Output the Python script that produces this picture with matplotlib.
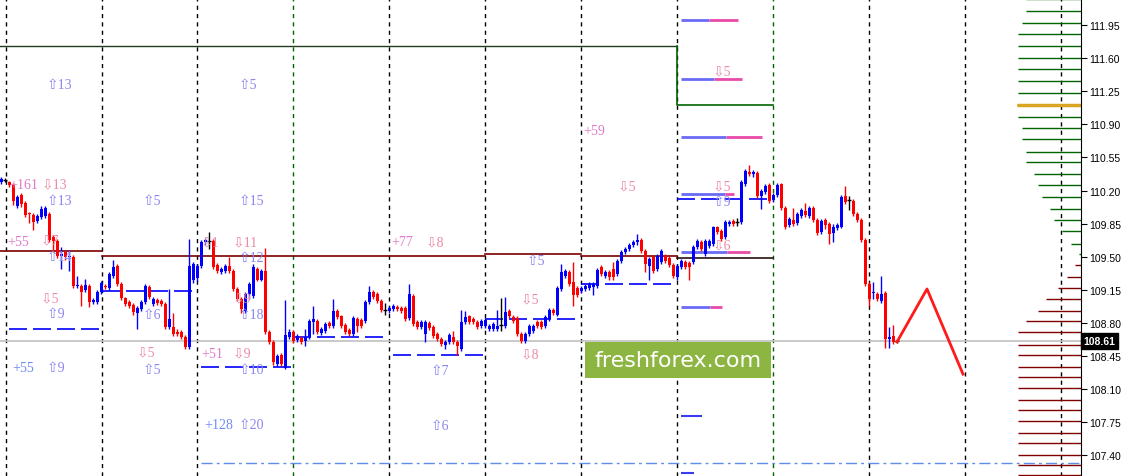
import matplotlib
matplotlib.use("Agg")
import matplotlib.pyplot as plt
from matplotlib.patches import Rectangle

# H1 candles (index 0 = first candle on the left)
opens = [110.29, 110.31, 110.29, 110.26, 110.04, 110.15, 110.07, 109.96, 109.94, 109.88,
         109.92, 109.93, 109.95, 109.71, 109.67, 109.51, 109.55, 109.50, 109.50, 109.19,
         109.19, 109.15, 109.19, 109.02, 109.02, 109.13, 109.19, 109.17, 109.30, 109.40,
         109.21, 109.06, 109.02, 108.99, 108.91, 108.95, 109.02, 109.18, 109.00, 109.04,
         109.03, 109.00, 108.76, 108.76, 108.71, 108.70, 108.65, 108.55, 109.26, 109.28,
         109.40, 109.66, 109.67, 109.67, 109.41, 109.34, 109.35, 109.40, 109.35, 109.16,
         109.05, 108.93, 109.11, 109.09, 109.37, 109.26, 109.35, 108.70, 108.60, 108.37,
         108.46, 108.32, 108.65, 108.70, 108.62, 108.64, 108.61, 108.65, 108.81, 108.82,
         108.69, 108.72, 108.80, 108.77, 108.93, 108.87, 108.78, 108.73, 108.68, 108.84,
         108.83, 108.82, 109.02, 109.13, 109.11, 109.03, 108.94, 108.93, 108.95, 108.97,
         108.96, 108.96, 108.85, 109.09, 108.81, 108.76, 108.68, 108.80, 108.76, 108.68,
         108.63, 108.57, 108.60, 108.65, 108.60, 108.53, 108.81, 108.87, 108.84, 108.81,
         108.77, 108.77, 108.74, 108.74, 108.74, 108.78, 108.77, 108.93, 108.86, 108.85,
         108.68, 108.61, 108.68, 108.72, 108.81, 108.81, 108.77, 108.84, 108.94, 108.89,
         109.16, 109.30, 109.34, 109.23, 109.17, 109.14, 109.16, 109.17, 109.18, 109.19,
         109.39, 109.30, 109.34, 109.37, 109.32, 109.46, 109.55, 109.58, 109.62, 109.66,
         109.68, 109.56, 109.40, 109.50, 109.37, 109.44, 109.51, 109.49, 109.41, 109.29,
         109.39, 109.44, 109.43, 109.44, 109.60, 109.66, 109.53, 109.61, 109.64, 109.81,
         109.77, 109.71, 109.85, 109.88, 109.87, 109.87, 110.27, 110.40, 110.37, 110.39,
         110.14, 110.18, 110.26, 110.10, 110.15, 110.27, 110.02, 109.84, 109.89, 109.86,
         109.93, 109.98, 109.93, 110.02, 109.89, 109.76, 109.89, 109.85, 109.75, 109.80,
         109.82, 110.14, 110.10, 110.09, 109.95, 109.89, 109.68, 109.21, 109.12, 109.11,
         109.03, 109.12, 108.63, 108.66, 108.61]
closes = [110.32, 110.31, 110.26, 110.09, 110.13, 110.06, 109.94, 109.95, 109.87, 109.93,
          110.01, 110.02, 109.68, 109.67, 109.51, 109.53, 109.50, 109.51, 109.19, 109.20,
          109.13, 109.20, 109.02, 109.04, 109.13, 109.22, 109.18, 109.32, 109.39, 109.21,
          109.06, 109.00, 108.98, 108.92, 108.96, 109.02, 109.19, 109.08, 109.05, 109.01,
          109.00, 108.76, 108.84, 108.68, 108.68, 108.65, 108.55, 109.40, 109.42, 109.40,
          109.66, 109.68, 109.67, 109.39, 109.35, 109.37, 109.40, 109.35, 109.16, 109.05,
          108.95, 109.11, 109.21, 109.39, 109.26, 109.35, 108.70, 108.60, 108.39, 108.45,
          108.37, 108.67, 108.71, 108.61, 108.66, 108.60, 108.65, 108.82, 108.84, 108.70,
          108.74, 108.79, 108.77, 108.93, 108.86, 108.77, 108.70, 108.68, 108.85, 108.77,
          108.77, 109.02, 109.13, 109.08, 109.03, 108.94, 108.94, 108.96, 108.98, 108.95,
          108.93, 108.84, 109.11, 108.79, 108.76, 108.81, 108.81, 108.75, 108.66, 108.63,
          108.58, 108.60, 108.67, 108.60, 108.56, 108.81, 108.86, 108.81, 108.81, 108.76,
          108.82, 108.83, 108.77, 108.79, 108.77, 108.78, 108.92, 108.87, 108.82, 108.68,
          108.61, 108.68, 108.77, 108.77, 108.77, 108.76, 108.86, 108.94, 108.91, 109.17,
          109.34, 109.35, 109.21, 109.10, 109.10, 109.17, 109.19, 109.21, 109.21, 109.36,
          109.32, 109.34, 109.29, 109.29, 109.46, 109.55, 109.58, 109.62, 109.66, 109.68,
          109.56, 109.42, 109.48, 109.35, 109.51, 109.56, 109.46, 109.41, 109.30, 109.40,
          109.46, 109.39, 109.39, 109.60, 109.67, 109.58, 109.67, 109.67, 109.81, 109.76,
          109.69, 109.87, 109.87, 109.85, 109.87, 110.29, 110.41, 110.37, 110.40, 110.14,
          110.20, 110.25, 110.09, 110.15, 110.26, 110.02, 109.81, 109.90, 109.85, 109.95,
          109.99, 109.94, 110.02, 109.89, 109.75, 109.88, 109.84, 109.74, 109.82, 109.84,
          110.13, 110.08, 110.10, 109.95, 109.89, 109.68, 109.21, 109.05, 109.13, 109.05,
          109.11, 108.63, 108.65, 108.60, 108.61]
highs = [110.34, 110.33, 110.30, 110.28, 110.15, 110.17, 110.09, 109.97, 109.96, 109.95,
         110.04, 110.04, 109.97, 109.73, 109.69, 109.60, 109.57, 109.57, 109.52, 109.30,
         109.21, 109.27, 109.21, 109.06, 109.15, 109.24, 109.21, 109.34, 109.47, 109.42,
         109.23, 109.08, 109.04, 109.01, 108.98, 109.04, 109.21, 109.20, 109.08, 109.06,
         109.05, 109.02, 109.16, 108.91, 108.74, 108.73, 108.67, 109.69, 109.45, 109.42,
         109.68, 109.70, 109.76, 109.69, 109.43, 109.39, 109.42, 109.50, 109.37, 109.18,
         109.08, 109.13, 109.23, 109.42, 109.39, 109.37, 109.59, 108.73, 108.62, 108.47,
         108.48, 109.04, 108.74, 108.73, 108.68, 108.66, 108.74, 108.84, 108.98, 108.84,
         108.76, 108.81, 108.82, 109.05, 108.95, 108.89, 108.80, 108.75, 108.87, 108.86,
         108.85, 109.04, 109.19, 109.15, 109.13, 109.05, 109.01, 108.98, 109.00, 108.99,
         108.98, 108.98, 109.21, 109.11, 108.83, 108.83, 108.83, 108.82, 108.78, 108.70,
         108.65, 108.62, 108.69, 108.72, 108.62, 108.94, 108.93, 108.89, 108.86, 108.83,
         108.84, 108.85, 108.79, 108.81, 108.94, 109.06, 109.08, 108.95, 108.88, 108.87,
         108.70, 108.70, 108.79, 108.79, 108.83, 108.83, 108.88, 108.96, 108.96, 109.19,
         109.42, 109.37, 109.36, 109.44, 109.19, 109.19, 109.21, 109.23, 109.23, 109.38,
         109.41, 109.36, 109.36, 109.44, 109.48, 109.57, 109.60, 109.65, 109.68, 109.74,
         109.70, 109.58, 109.50, 109.52, 109.53, 109.58, 109.53, 109.51, 109.43, 109.42,
         109.48, 109.47, 109.46, 109.62, 109.69, 109.68, 109.69, 109.69, 109.83, 109.83,
         109.79, 109.89, 109.89, 109.90, 109.91, 110.31, 110.43, 110.47, 110.42, 110.41,
         110.22, 110.27, 110.28, 110.17, 110.28, 110.28, 110.04, 109.92, 110.02, 109.97,
         110.02, 110.07, 110.04, 110.04, 109.91, 109.90, 109.91, 109.87, 109.85, 109.86,
         110.15, 110.25, 110.14, 110.11, 109.97, 109.91, 109.70, 109.23, 109.23, 109.13,
         109.30, 109.14, 108.76, 108.78, 108.63]
lows = [110.27, 110.29, 110.24, 110.05, 110.02, 110.03, 109.92, 109.86, 109.78, 109.86,
        109.90, 109.91, 109.66, 109.55, 109.49, 109.37, 109.47, 109.35, 109.17, 109.17,
        108.98, 109.13, 108.97, 109.00, 109.00, 109.11, 109.16, 109.15, 109.28, 109.19,
        109.04, 108.98, 108.96, 108.89, 108.74, 108.93, 109.00, 109.05, 108.98, 108.99,
        108.98, 108.74, 108.74, 108.66, 108.66, 108.63, 108.53, 108.53, 109.22, 109.24,
        109.38, 109.63, 109.58, 109.37, 109.33, 109.32, 109.33, 109.33, 109.14, 109.03,
        108.91, 108.91, 109.05, 109.06, 109.24, 109.24, 108.68, 108.58, 108.36, 108.35,
        108.35, 108.31, 108.63, 108.59, 108.60, 108.58, 108.56, 108.63, 108.68, 108.68,
        108.67, 108.69, 108.75, 108.75, 108.84, 108.75, 108.68, 108.66, 108.66, 108.70,
        108.75, 108.80, 109.00, 109.05, 109.01, 108.92, 108.88, 108.91, 108.93, 108.93,
        108.91, 108.82, 108.83, 108.77, 108.74, 108.74, 108.60, 108.73, 108.64, 108.61,
        108.56, 108.53, 108.58, 108.58, 108.46, 108.50, 108.79, 108.79, 108.79, 108.74,
        108.75, 108.75, 108.72, 108.72, 108.72, 108.72, 108.75, 108.85, 108.80, 108.66,
        108.59, 108.59, 108.66, 108.69, 108.75, 108.74, 108.75, 108.82, 108.89, 108.87,
        109.14, 109.28, 109.19, 108.98, 109.08, 109.12, 109.14, 109.15, 109.10, 109.17,
        109.30, 109.28, 109.26, 109.26, 109.30, 109.43, 109.53, 109.56, 109.60, 109.63,
        109.54, 109.34, 109.26, 109.33, 109.35, 109.42, 109.43, 109.39, 109.28, 109.26,
        109.37, 109.37, 109.26, 109.42, 109.58, 109.56, 109.51, 109.59, 109.61, 109.74,
        109.67, 109.69, 109.83, 109.83, 109.83, 109.85, 110.25, 110.35, 110.34, 110.12,
        110.01, 110.16, 110.07, 110.08, 110.13, 109.99, 109.79, 109.81, 109.83, 109.84,
        109.91, 109.92, 109.91, 109.87, 109.73, 109.74, 109.79, 109.64, 109.66, 109.78,
        109.80, 110.06, 109.99, 109.93, 109.87, 109.66, 109.19, 108.98, 109.05, 109.03,
        109.01, 108.54, 108.54, 108.58, 108.59]

last_price = 108.61
price_ticks = [111.95, 111.60, 111.25, 110.90, 110.55, 110.20, 109.85,
               109.50, 109.15, 108.80, 108.45, 108.10, 107.75, 107.40]

# day separators (candle index), weekly ones drawn green
day_lines = [1.25, 25.25, 49, 73, 97, 121, 145, 169, 193, 217, 241, 265]
week_lines = [73, 193]

# daily levels: (start, end, price)
blue_levels = [(2, 24.5, 108.74), (25.25, 49, 109.14), (50, 73, 108.34), (73, 97, 108.65),
               (98, 121, 108.46), (121, 145, 108.84), (145, 169, 109.21), (169, 193, 110.11)]
maroon_levels = [(-0.25, 25.25, 109.56), (25.25, 121, 109.51), (121, 145, 109.53),
                 (145, 169, 109.51)]
dark_levels = [(169, 193, 109.49)]
top_step = [(-0.25, 111.73), (169, 111.73), (169, 111.10), (193, 111.10)]

# projection levels: (price, blue end, pink end) starting at candle 170
proj_levels = [(112.00, 177, 184.25), (111.38, 178.25, 185.25), (110.77, 181.25, 190.25),
               (110.16, 181, 183.25), (109.55, 181.5, 187.25), (108.97, 177.25, 180.25)]
proj_short = [(107.82, 175.25), (107.21, 173.25)]
dashdot_level = (50, 270, 107.32)

# forecast zigzag
zig_x = [224, 231.5, 240.5]
zig_y = [108.60, 109.16, 108.26]

# volume profile on the right edge
profile_prices = [112.22, 112.10, 111.97, 111.86, 111.73, 111.60, 111.48, 111.36, 111.23, 111.10,
                  110.98, 110.86, 110.74, 110.61, 110.50, 110.37, 110.26, 110.13, 110.01, 109.89,
                  109.77, 109.64, 109.53, 109.41, 109.29, 109.17, 109.05, 108.93, 108.82, 108.71,
                  108.57, 108.46, 108.34, 108.23, 108.11, 107.99, 107.88, 107.76, 107.64, 107.53,
                  107.41, 107.30, 107.19]
profile_len = [13.75, 13.75, 14.75, 15.75, 15.75, 15.75, 15.75, 15.75, 15.75, 16.0,
               15.75, 14.75, 14.75, 13.75, 13.75, 11.75, 10.75, 9.75, 7.75, 6.75,
               4.75, 2.5, 0.5, 1.5, 3.5, 5.75, 8.75, 10.75, 13.75, 15.75,
               15.75, 15.75, 15.75, 15.75, 15.75, 15.75, 15.75, 15.75, 15.75, 15.75,
               15.75, 15.75, 15.75]
poc_price = 111.10

# signal labels: text, candle index, price, kind
ann_text = ["⇧13", "+161", "⇩13", "⇧13", "+55", "⇩7", "⇧14", "⇩5", "⇧9", "+55", "⇧9",
            "⇧5", "⇧6", "⇩5", "⇧5",
            "⇧5", "⇧15", "⇩1", "⇩11", "⇧12", "⇩9", "⇧18", "+51", "⇩9", "⇧10", "+128", "⇧20",
            "+77", "⇩8", "⇧7", "⇧6",
            "⇧5", "⇩5", "⇩8", "+59", "⇩5",
            "⇩5", "⇩5", "⇧9", "⇩6"]
ann_x = [11.5, 2.0, 10.25, 11.5, 1.5, 10, 11.5, 10, 11.5, 2.75, 11.5,
         35.5, 35.5, 34, 35.5,
         59.5, 59.5, 50, 58, 59.5, 58, 59.5, 50, 58, 59.5, 50.75, 59.5,
         97.5, 106.25, 107.5, 107.5,
         131.5, 130, 130, 145.5, 154.25,
         178, 178, 178, 178]
ann_y = [111.32, 110.26, 110.27, 110.10, 109.66, 109.68, 109.50, 109.07, 108.90, 108.33, 108.33,
         110.10, 108.89, 108.49, 108.31,
         111.32, 110.10, 109.66, 109.66, 109.49, 109.07, 108.89, 108.48, 108.48, 108.31, 107.73, 107.73,
         109.66, 109.66, 108.30, 107.72,
         109.46, 109.05, 108.47, 110.84, 110.25,
         111.46, 110.25, 110.08, 109.62]
ann_kind = ["up", "plus", "down", "up", "plus", "down", "up", "down", "up", "plusb", "up",
            "up", "up", "down", "up",
            "up", "up", "down", "down", "up", "down", "up", "plus", "down", "up", "plusb", "up",
            "plus", "down", "up", "up",
            "up", "down", "down", "plus", "down",
            "down", "down", "up", "down"]
kind_color = {"up": "#8a86f0", "down": "#ec8aa6", "plus": "#e07acb", "plusb": "#6f8cf5"}

fig = plt.figure(figsize=(11.23, 4.77), dpi=100)
ax = fig.add_axes([0, 0, 1081 / 1123, 1])
ax.set_xlim(-0.25, 270)
ax.set_ylim(107.183, 112.225)

# separators
for d in day_lines:
    col = "#006400" if d in week_lines else "black"
    ax.axvline(d, color=col, lw=1, ls=(0, (3, 3)), zorder=1)

# levels
ax.axhline(last_price, color="#c0c0c0", lw=1.2, zorder=1)
ax.plot([p[0] for p in top_step[:2]], [p[1] for p in top_step[:2]], color="#223a22", lw=1, zorder=2)
ax.plot([p[0] for p in top_step[1:]], [p[1] for p in top_step[1:]], color="#006400", lw=1.2, zorder=2)
for s, e, p in maroon_levels:
    ax.plot([s, e], [p, p], color="#7a0000", lw=1.2, zorder=2)
for s, e, p in dark_levels:
    ax.plot([s, e], [p, p], color="#2a1010", lw=1.2, zorder=2)
for s, e, p in blue_levels:
    ax.plot([s, e], [p, p], color="#0000ff", lw=1.2, ls=(0, (10.8, 3.6)), zorder=2)
for p, be, pe in proj_levels:
    ax.plot([170, be], [p, p], color="#6a6af5", lw=2, solid_capstyle="butt", zorder=2)
    ax.plot([be, pe], [p, p], color="#e84aa8", lw=2, solid_capstyle="butt", zorder=2)
for p, be in proj_short:
    ax.plot([170, be], [p, p], color="#3b3bf0", lw=1.5, solid_capstyle="butt", zorder=2)
ax.plot([dashdot_level[0], dashdot_level[1]], [dashdot_level[2]] * 2, color="#5b8ee8",
        lw=1, ls=(0, (8, 3, 2, 3)), zorder=2)

# candles
for i in range(len(opens)):
    o, c, h, l = opens[i], closes[i], highs[i], lows[i]
    col = "#0000ff" if c > o else ("#ff0000" if c < o else "black")
    ax.vlines(i, min(l, o, c), max(h, o, c), color=col, lw=1, zorder=3)
    if c == o:
        ax.hlines(o, i - 0.45, i + 0.45, color=col, lw=1, zorder=3)
    else:
        ax.bar(i, abs(c - o), bottom=min(o, c), width=0.75, color=col, lw=0, zorder=3)

# volume profile
for p, ln in zip(profile_prices, profile_len):
    col = "#006400" if p >= 109.5 else "#800000"
    ax.plot([270 - ln, 270], [p, p], color=col, lw=1, solid_capstyle="butt", zorder=2)
ax.plot([270 - 16.0, 270], [poc_price, poc_price], color="#daa520", lw=2.5,
        solid_capstyle="butt", zorder=2)

# forecast
ax.plot(zig_x, zig_y, color="#ff1a1a", lw=2, zorder=4)

# labels
for t, x, y, k in zip(ann_text, ann_x, ann_y, ann_kind):
    ax.text(x, y, t, color=kind_color[k], fontsize=10, ha="left", va="center",
            family=["Liberation Serif", "DejaVu Sans"], zorder=5)

# watermark
ax.add_patch(Rectangle((585 / 1081, 98 / 477), 186 / 1081, 36 / 477, transform=ax.transAxes,
                       facecolor="#8db541", edgecolor="none", zorder=6))
ax.text(678 / 1081, 116 / 477, "freshforex.com", transform=ax.transAxes, color="white",
        fontsize=16, ha="center", va="center", zorder=7)

# axes style
for side in ["left", "top", "bottom"]:
    ax.spines[side].set_visible(False)
ax.spines["right"].set_color("black")
ax.set_xticks([])
ax.yaxis.tick_right()
ax.set_yticks(price_ticks)
ax.set_yticklabels([f"{v:.2f}" for v in price_ticks], family="Liberation Sans")
ax.tick_params(axis="y", direction="out", length=4, labelsize=7.5, pad=2, colors="black")

ax.text(1.002, last_price, f"{last_price:.2f}", transform=ax.get_yaxis_transform(),
        color="white", fontsize=7.5, ha="left", va="center", fontweight="bold",
        family="Liberation Sans",
        bbox=dict(boxstyle="square,pad=0.25", facecolor="black", edgecolor="black"))

fig.savefig("out.png", dpi=100)
